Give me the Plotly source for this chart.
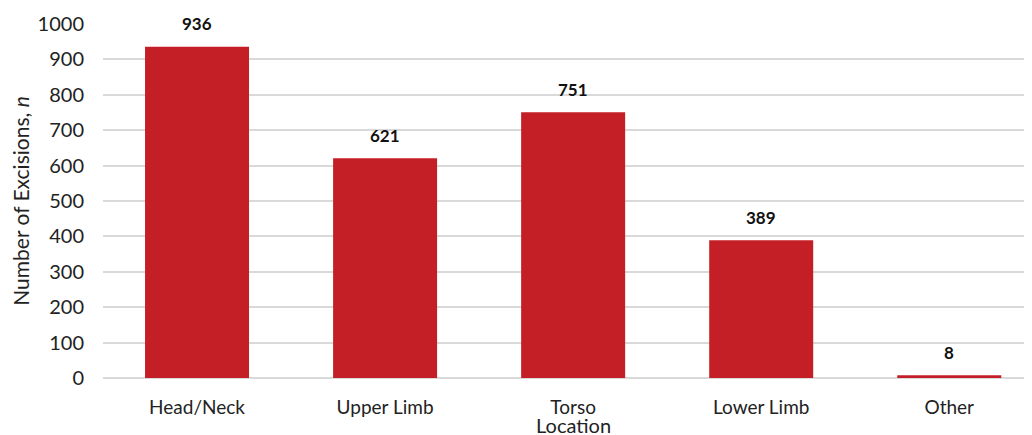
import plotly.graph_objects as go

categories = ["Head/Neck", "Upper Limb", "Torso", "Lower Limb", "Other"]
values = [936, 621, 751, 389, 8]
y_ticks = [0, 100, 200, 300, 400, 500, 600, 700, 800, 900, 1000]
x_title = "Location"
y_title = "Number of Excisions, <i>n</i>"

FONT = "Lato, 'Open Sans', sans-serif"
fig = go.Figure()
fig.add_trace(go.Bar(
    x=categories, y=values, width=0.553,
    marker=dict(color="#C41F26", line=dict(width=0)),
))
for c, v in zip(categories, values):
    fig.add_annotation(x=c, y=v, text=f"<b>{v}</b>", showarrow=False,
                       yshift=23, font=dict(family=FONT, size=17, color="#111"))

# x-axis title placed tight under the tick labels, as in the reference
fig.add_annotation(x=0.506, xref="paper", y=0, yref="paper", yanchor="middle",
                   yshift=-47, text=x_title, showarrow=False,
                   font=dict(family=FONT, size=20, color="#222"))

fig.update_layout(
    width=1032, height=435,
    margin=dict(l=95, r=8, t=16, b=65),
    plot_bgcolor="white", paper_bgcolor="white",
    showlegend=False,
    font=dict(family=FONT, size=19, color="#222"),
    xaxis=dict(range=[-0.5, 4.44], showgrid=False, showline=False, ticks="",
               tickfont=dict(size=19), ticklabelstandoff=16, automargin=False),
    yaxis=dict(range=[0, 1000], tickvals=y_ticks, showgrid=True,
               gridcolor="#d9d9d9", gridwidth=2, zeroline=True,
               zerolinecolor="#d9d9d9", zerolinewidth=2, automargin=False,
               ticks="", tickfont=dict(size=20), ticklabelstandoff=18,
               title=dict(text=y_title, font=dict(size=21), standoff=4)),
)
fig.update_yaxes(layer="below traces")
fig.write_html("out.html")
